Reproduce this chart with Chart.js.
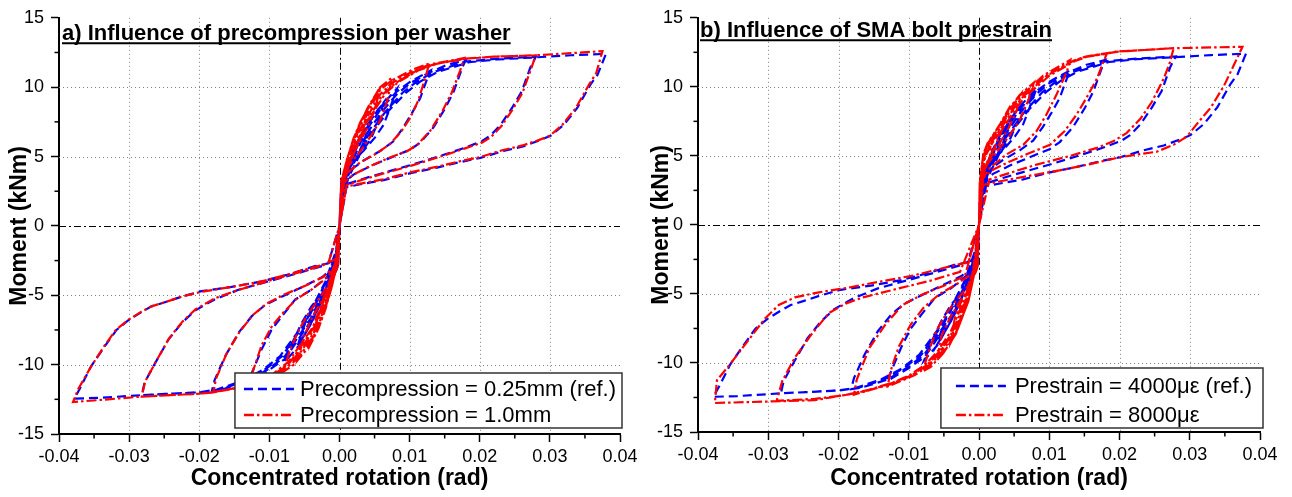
<!DOCTYPE html>
<html><head><meta charset="utf-8">
<script src="https://cdn.jsdelivr.net/npm/chart.js@4.4.0/dist/chart.umd.min.js"></script>
<style>
html,body{margin:0;padding:0;background:#fff;}
#wrap{position:relative;width:1292px;height:497px;overflow:hidden;}
.panel{position:absolute;top:0;width:646px;height:497px;}
#pa{left:0;} #pb{left:646px;}
</style></head><body>
<div id="wrap"><div class="panel" id="pa"><canvas id="ca" width="646" height="497"></canvas></div><div class="panel" id="pb"><canvas id="cb" width="646" height="497"></canvas></div></div>
<script>
// ---------- tick labels & text ----------
const xTickLabels = ['-0.04','-0.03','-0.02','-0.01','0.00','0.01','0.02','0.03','0.04'];
const yTickLabels = ['-15','-10','-5','0','5','10','15'];
const panelTitles = ['a) Influence of precompression per washer', 'b) Influence of SMA bolt prestrain'];
const seriesLabelsA = ['Precompression = 0.25mm (ref.)', 'Precompression = 1.0mm'];
const seriesLabelsB = ['Prestrain = 4000\u03bc\u03b5 (ref.)', 'Prestrain = 8000\u03bc\u03b5'];
const xAxisTitle = 'Concentrated rotation (rad)';
const yAxisTitle = 'Moment (kNm)';

// ---------- reference test (0.25mm precompression, 4000 microstrain) ----------
const refRot = [
 0,0.0002,0.0006,0.0012,0.0021,0.0016,0.0008,0.0002,0,-0.0004,-0.0011,-0.0021,-0.0016,-0.0008,-0.0002,0,
 0.0002,0.0006,0.0012,0.002,0.003,0.0041,0.0034,0.0024,0.0012,0.0004,0,-0.0004,-0.0011,-0.0025,-0.004,-0.0032,-0.0022,-0.001,-0.0003,0,
 0.0002,0.0008,0.002,0.004,0.0063,0.0055,0.0045,0.003,0.0015,0.0004,0,-0.0004,-0.0015,-0.004,-0.006,-0.0052,-0.004,-0.0025,-0.0011,-0.0002,0,
 0.0002,0.001,0.003,0.0055,0.0082,0.0072,0.0063,0.0051,0.0034,0.0015,0.0003,0,-0.0004,-0.0015,-0.0035,-0.0059,-0.0078,-0.0068,-0.0054,-0.004,-0.0025,-0.0011,-0.0002,0,
 0.0002,0.001,0.003,0.006,0.0082,0.0101,0.013,0.0125,0.0115,0.0103,0.0091,0.0077,0.0058,0.0034,0.0015,0.0003,0,-0.0004,-0.0015,-0.004,-0.0078,-0.0101,-0.013,-0.0125,-0.0111,-0.0097,-0.0082,-0.0063,-0.004,-0.0016,-0.0004,0,
 0.0002,0.001,0.003,0.006,0.0082,0.0101,0.013,0.0153,0.018,0.0175,0.0163,0.0151,0.0134,0.0115,0.0101,0.0072,0.0044,0.002,0.0006,0,-0.0004,-0.0015,-0.004,-0.0078,-0.0101,-0.013,-0.0168,-0.0182,-0.0178,-0.0163,-0.0144,-0.0125,-0.0106,-0.0078,-0.0049,-0.0025,-0.0006,0,
 0.0003,0.0012,0.0035,0.0065,0.009,0.011,0.0135,0.018,0.0225,0.028,0.0272,0.026,0.0246,0.023,0.0215,0.0203,0.0177,0.0144,0.0106,0.0068,0.0034,0.001,0,-0.0005,-0.0018,-0.0045,-0.0082,-0.0105,-0.0135,-0.0172,-0.0201,-0.0282,-0.0278,-0.0263,-0.0244,-0.0225,-0.0206,-0.0178,-0.0144,-0.0101,-0.0059,-0.0025,-0.0006,0,
 0.0003,0.0013,0.004,0.007,0.0095,0.0115,0.014,0.0185,0.0225,0.028,0.033,0.038,0.0368,0.0358,0.0339,0.032,0.0301,0.0287,0.0263,0.0234,0.0201,0.0172,0.0139,0.0101,0.0063,0.003,0.001,0,-0.0005,-0.002,-0.005,-0.0085,-0.011,-0.014,-0.0175,-0.0201,-0.0282,-0.0344,-0.0378,-0.037,-0.0354,-0.0335,-0.0318,-0.0301,-0.0282,-0.0268,-0.0249,-0.0225,-0.0197,-0.0154,-0.0111,-0.0073,-0.0035,-0.0016,0
];
const refMom = [
 0,2.0,3.4,4.5,5.4,4.3,3.3,2.4,0,-2.0,-3.4,-4.8,-3.9,-3.0,-2.1,0,
 2.0,3.4,4.5,5.5,6.5,7.2,5.9,4.9,4.0,3.2,0,-2.0,-3.4,-5.3,-6.9,-5.6,-4.6,-3.6,-2.6,0,
 2.0,3.8,5.4,7.3,8.9,7.5,6.3,5.2,4.3,3.3,0,-2.0,-4.0,-7.0,-8.7,-7.4,-6.0,-4.9,-3.9,-2.8,0,
 2.0,4.1,6.5,8.4,9.9,8.5,7.3,6.4,5.4,4.5,3.5,0,-2.0,-4.2,-6.5,-8.7,-9.8,-8.5,-7.0,-5.8,-4.9,-3.9,-2.9,0,
 1.9,3.9,6.3,8.5,9.7,10.4,11.2,10.6,9.2,8.1,7.1,6.1,5.4,4.7,4.0,3.3,0,-1.9,-4.0,-6.8,-9.6,-10.4,-11.3,-10.6,-8.9,-7.5,-6.5,-5.3,-4.6,-3.6,-2.7,0,
 1.8,3.7,6.0,8.2,9.5,10.3,11.1,11.6,11.95,11.4,9.7,8.5,7.1,6.0,5.5,4.9,4.3,3.7,3.1,0,-1.8,-3.8,-6.6,-9.4,-10.3,-11.2,-11.8,-11.9,-11.1,-9.4,-7.7,-6.5,-5.7,-5.0,-4.3,-3.7,-2.9,0,
 1.9,3.6,6.1,8.2,9.6,10.4,11.1,11.85,12.05,12.2,11.4,9.7,8.5,7.3,6.5,6.1,5.6,5.05,4.45,3.9,3.4,3.0,0,-1.9,-3.9,-6.7,-9.4,-10.3,-11.2,-11.8,-12.0,-12.2,-11.3,-9.9,-8.2,-7.0,-6.1,-5.3,-4.6,-4.0,-3.4,-2.9,-2.45,0,
 1.8,3.5,6.3,8.3,9.6,10.4,11.1,11.8,12.0,12.15,12.3,12.4,10.9,10.2,8.5,7.3,6.5,6.2,5.75,5.4,4.9,4.6,4.2,3.8,3.3,3.0,2.8,0,-1.8,-4.0,-7.0,-9.4,-10.4,-11.2,-11.8,-12.0,-12.2,-12.4,-12.45,-11.7,-10.1,-8.7,-7.5,-6.8,-6.2,-5.8,-5.5,-5.1,-4.7,-4.4,-4.0,-3.5,-2.9,-2.7,0
];

// ---------- precompression 1.0mm ----------
const pre10Rot = [
 0,0.0002,0.0006,0.0012,0.002,0.0015,0.0007,0.0002,0,-0.0003,-0.001,-0.002,-0.0015,-0.0007,-0.0002,0,
 0.0002,0.0006,0.0012,0.002,0.003,0.004,0.0033,0.0023,0.0012,0.0004,0,-0.0003,-0.001,-0.002,-0.003,-0.004,-0.0032,-0.0022,-0.0011,-0.0003,0,
 0.0002,0.0008,0.002,0.004,0.0058,0.005,0.0039,0.0026,0.0013,0.0004,0,-0.0003,-0.0012,-0.003,-0.0045,-0.006,-0.0051,-0.0039,-0.0024,-0.001,-0.0002,0,
 0.0002,0.001,0.003,0.0058,0.0075,0.0068,0.0058,0.0045,0.003,0.0014,0.0003,0,-0.0003,-0.0012,-0.003,-0.0065,-0.008,-0.0071,-0.0058,-0.0043,-0.0027,-0.0012,-0.0002,0,
 0.0002,0.001,0.003,0.0058,0.0075,0.0106,0.0128,0.0122,0.0112,0.0101,0.0088,0.0072,0.0052,0.003,0.0013,0.0003,0,-0.0003,-0.0012,-0.003,-0.0065,-0.009,-0.013,-0.0123,-0.0111,-0.0096,-0.0081,-0.0062,-0.004,-0.0017,-0.0004,0,
 0.0002,0.001,0.003,0.0058,0.0075,0.0106,0.013,0.0178,0.0172,0.016,0.0147,0.013,0.0112,0.0097,0.007,0.0043,0.002,0.0006,0,-0.0003,-0.0012,-0.003,-0.0065,-0.009,-0.013,-0.018,-0.0176,-0.0161,-0.0142,-0.0123,-0.0104,-0.0077,-0.0048,-0.0024,-0.0006,0,
 0.0003,0.0012,0.0035,0.0062,0.008,0.011,0.0135,0.0177,0.022,0.028,0.0273,0.0261,0.0247,0.0231,0.0216,0.0203,0.0177,0.0144,0.0106,0.0068,0.0034,0.001,0,-0.0004,-0.0015,-0.0035,-0.007,-0.0095,-0.0135,-0.018,-0.0201,-0.0282,-0.0277,-0.0262,-0.0243,-0.0224,-0.0205,-0.0177,-0.0143,-0.01,-0.0058,-0.0024,-0.0006,0,
 0.0003,0.0013,0.0038,0.0066,0.0085,0.0112,0.014,0.018,0.022,0.028,0.033,0.0375,0.0366,0.0356,0.0337,0.0318,0.03,0.0285,0.0261,0.0232,0.02,0.0171,0.0138,0.01,0.0062,0.003,0.001,0,-0.0004,-0.0016,-0.0038,-0.0073,-0.0098,-0.0138,-0.0183,-0.0201,-0.0282,-0.033,-0.038,-0.0373,-0.0355,-0.0336,-0.0319,-0.0302,-0.0283,-0.0268,-0.0249,-0.0225,-0.0197,-0.0154,-0.0111,-0.0073,-0.0035,-0.0016,0
];
const pre10Mom = [
 0,2.5,3.9,5.0,6.2,4.8,3.6,2.7,0,-2.5,-4.2,-5.9,-4.6,-3.4,-2.4,0,
 2.5,3.9,5.0,6.3,7.5,8.4,6.8,5.5,4.4,3.4,0,-2.5,-4.2,-6.0,-7.4,-8.4,-6.8,-5.3,-4.1,-2.9,0,
 2.5,4.3,6.3,8.5,10.0,8.3,7.0,5.8,4.6,3.5,0,-2.5,-4.5,-7.4,-8.8,-9.7,-8.0,-6.6,-5.3,-4.0,-2.8,0,
 2.5,4.7,7.5,10.0,10.7,9.0,7.6,6.5,5.4,4.4,3.4,0,-2.5,-4.5,-7.4,-10.0,-10.5,-9.0,-7.5,-6.2,-5.1,-4.0,-2.9,0,
 2.4,4.5,7.3,9.8,10.5,11.3,11.7,10.6,9.0,7.8,6.8,5.9,5.2,4.6,3.9,3.3,0,-2.4,-4.3,-7.2,-9.8,-10.8,-11.6,-10.4,-8.6,-7.2,-6.3,-5.3,-4.6,-3.7,-2.8,0,
 2.3,4.3,7.0,9.5,10.3,11.2,11.65,12.1,11.2,9.6,8.3,6.9,5.9,5.4,4.9,4.3,3.7,3.1,0,-2.3,-4.1,-7.0,-9.6,-10.7,-11.5,-12.0,-11.0,-9.2,-7.6,-6.4,-5.6,-4.9,-4.3,-3.7,-2.9,0,
 2.4,4.3,7.2,9.5,10.3,11.2,11.65,12.05,12.2,12.3,11.3,9.6,8.4,7.2,6.4,6.0,5.55,5.0,4.4,3.85,3.35,2.95,0,-2.4,-4.3,-7.2,-9.8,-10.8,-11.6,-12.0,-12.1,-12.3,-11.2,-9.8,-8.1,-6.9,-6.0,-5.2,-4.6,-3.95,-3.35,-2.85,-2.4,0,
 2.3,4.3,7.4,9.6,10.4,11.2,11.7,12.05,12.2,12.3,12.45,12.6,11.0,10.2,8.5,7.3,6.5,6.2,5.8,5.45,4.95,4.65,4.25,3.85,3.35,3.05,2.85,0,-2.3,-4.3,-7.3,-9.8,-10.8,-11.6,-12.0,-12.1,-12.3,-12.5,-12.7,-11.8,-10.2,-8.7,-7.5,-6.8,-6.2,-5.8,-5.5,-5.1,-4.75,-4.4,-4.0,-3.5,-2.95,-2.7,0
];

// ---------- prestrain 8000 microstrain ----------
const ps8000Rot = [
 0,0.0001,0.0006,0.0012,0.002,0.0015,0.0007,0.0002,0,-0.0005,-0.0012,-0.002,-0.0015,-0.0007,-0.0002,0,
 0.0001,0.0006,0.0015,0.003,0.004,0.0034,0.0024,0.0012,0.0003,0,-0.0005,-0.0015,-0.003,-0.004,-0.0034,-0.0024,-0.0012,-0.0003,0,
 0.0001,0.0006,0.0015,0.003,0.0044,0.006,0.0053,0.0042,0.0028,0.0013,0.0003,0,-0.0005,-0.0015,-0.0033,-0.0051,-0.006,-0.0053,-0.0042,-0.0028,-0.0013,-0.0003,0,
 0.0001,0.0006,0.0015,0.003,0.0044,0.0058,0.0078,0.007,0.0058,0.0044,0.0027,0.0012,0.0003,0,-0.0005,-0.0015,-0.0033,-0.0051,-0.0069,-0.008,-0.0072,-0.006,-0.0045,-0.0028,-0.0012,-0.0002,0,
 0.0001,0.0006,0.0015,0.003,0.0044,0.0058,0.0072,0.0091,0.013,0.0125,0.011,0.0096,0.0082,0.0063,0.0039,0.0015,0.0003,0,-0.0005,-0.0015,-0.0033,-0.0051,-0.0069,-0.0092,-0.013,-0.0126,-0.0114,-0.0097,-0.0079,-0.0056,-0.0032,-0.0009,0,
 0.0001,0.0006,0.0015,0.003,0.0044,0.0058,0.0072,0.0091,0.013,0.0149,0.0182,0.0177,0.0168,0.0153,0.0139,0.0122,0.0101,0.0072,0.0044,0.002,0.0006,0,-0.0005,-0.0015,-0.0033,-0.0051,-0.0069,-0.0092,-0.0116,-0.0151,-0.0178,-0.0174,-0.0156,-0.0133,-0.0109,-0.0079,-0.005,-0.002,0,
 0.0002,0.0008,0.0018,0.0034,0.0049,0.0063,0.0077,0.0096,0.0135,0.0152,0.0196,0.0277,0.0272,0.0263,0.0246,0.023,0.021,0.0191,0.0168,0.013,0.0082,0.0044,0.0015,0,-0.0006,-0.0018,-0.0037,-0.0055,-0.0073,-0.0096,-0.012,-0.0155,-0.0187,-0.0234,-0.0288,-0.028,-0.0262,-0.0238,-0.0214,-0.019,-0.0165,-0.0118,-0.007,-0.0027,0,
 0.0002,0.0009,0.002,0.0037,0.0052,0.0066,0.008,0.01,0.0138,0.0155,0.0198,0.0277,0.0375,0.0363,0.0349,0.033,0.031,0.0296,0.0277,0.0253,0.0225,0.0196,0.0158,0.012,0.0082,0.0044,0.002,0.0006,0,-0.0006,-0.002,-0.004,-0.0058,-0.0076,-0.0099,-0.0122,-0.0157,-0.0189,-0.0234,-0.0305,-0.0376,-0.0373,-0.0353,-0.0329,-0.0305,-0.0285,-0.0262,-0.023,-0.0187,-0.014,-0.0092,-0.0045,-0.0015,0
];
const ps8000Mom = [
 0,3.0,5.1,5.9,6.5,4.8,3.8,2.8,0,-3.1,-4.8,-5.7,-4.3,-3.3,-2.4,0,
 3.0,5.1,6.1,7.3,8.2,7.0,5.8,4.6,3.3,0,-3.1,-5.5,-7.5,-8.5,-6.6,-5.4,-4.3,-3.0,0,
 3.0,5.1,6.1,7.3,8.5,9.5,8.2,7.0,5.8,4.6,3.4,0,-3.1,-5.5,-7.9,-9.3,-9.8,-8.0,-6.8,-5.6,-4.5,-3.2,0,
 3.0,5.1,6.1,7.3,8.5,9.4,10.3,9.0,7.6,6.5,5.4,4.4,3.4,0,-3.1,-5.5,-7.9,-9.3,-10.3,-10.6,-9.2,-7.6,-6.3,-5.2,-4.2,-3.0,0,
 3.0,5.0,6.0,7.2,8.4,9.3,9.9,10.8,11.95,11.1,9.4,8.0,6.8,5.8,5.1,4.1,3.2,0,-3.0,-5.3,-7.7,-9.1,-10.1,-10.9,-11.7,-10.6,-8.8,-7.2,-6.0,-5.0,-4.3,-3.5,0,
 2.9,4.9,5.9,7.0,8.2,9.1,9.8,10.7,11.8,12.15,12.4,11.8,10.6,9.2,8.0,6.8,5.8,5.2,4.6,4.0,3.4,0,-2.9,-5.1,-7.5,-8.9,-10.0,-10.8,-11.4,-11.9,-12.3,-11.2,-8.9,-7.2,-5.8,-5.0,-4.4,-3.7,0,
 3.0,5.0,6.0,7.2,8.4,9.3,9.9,10.8,11.9,12.2,12.55,12.8,11.8,10.6,8.9,7.7,6.65,6.05,5.58,5.0,4.37,3.77,3.3,0,-3.0,-5.3,-7.7,-9.1,-10.1,-10.9,-11.4,-11.95,-12.3,-12.6,-12.74,-11.3,-9.6,-7.9,-6.4,-5.7,-5.25,-4.65,-4.05,-3.4,0,
 2.9,5.0,6.0,7.2,8.4,9.3,9.9,10.8,11.9,12.2,12.55,12.8,12.9,11.6,10.1,8.5,7.3,6.4,5.8,5.3,5.1,4.85,4.4,4.0,3.65,3.3,3.05,2.9,0,-2.9,-5.3,-7.7,-9.1,-10.1,-10.9,-11.4,-11.95,-12.3,-12.7,-12.8,-12.9,-11.25,-10.0,-8.4,-6.8,-5.8,-5.25,-4.9,-4.55,-4.1,-3.65,-3.05,-2.7,0
];

// ---------- helpers ----------
const FONT = "'Liberation Sans', Arial, sans-serif";
const toPoints = (rot, mom) => rot.map((r, i) => ({x: r, y: mom[i]}));
const xMajor = xTickLabels.map(Number);
const yMajor = yTickLabels.map(Number);

function styleBlue(label, rot, mom) {
  return {label, data: toPoints(rot, mom), borderColor: '#0000ff', borderWidth: 2.2,
    borderDash: [9, 5], pointRadius: 0, showLine: true, tension: 0, fill: false, order: 1};
}
function styleRed(label, rot, mom) {
  return {label, data: toPoints(rot, mom), borderColor: '#ff0000', borderWidth: 2.2,
    borderDash: [10, 3, 2.5, 3], pointRadius: 0, showLine: true, tension: 0, fill: false, order: 0};
}

function decor(p) {
  return {
    id: 'decor',
    beforeDatasetsDraw(chart) {
      const {ctx, chartArea: a, scales: {x, y}} = chart;
      ctx.save();
      ctx.lineWidth = 1;
      xMajor.forEach(v => {
        if (v <= x.min || v >= x.max) return;
        const px = Math.round(x.getPixelForValue(v)) + 0.5;
        if (v === 0) { ctx.strokeStyle = '#000'; ctx.setLineDash([7, 3, 2, 3]); }
        else { ctx.strokeStyle = '#808080'; ctx.setLineDash([1, 3]); }
        ctx.beginPath(); ctx.moveTo(px, a.top); ctx.lineTo(px, a.bottom); ctx.stroke();
      });
      yMajor.forEach(v => {
        if (v <= y.min || v >= y.max) return;
        const py = Math.round(y.getPixelForValue(v)) + 0.5;
        if (v === 0) { ctx.strokeStyle = '#000'; ctx.setLineDash([7, 3, 2, 3]); }
        else { ctx.strokeStyle = '#808080'; ctx.setLineDash([1, 3]); }
        ctx.beginPath(); ctx.moveTo(a.left, py); ctx.lineTo(a.right, py); ctx.stroke();
      });
      ctx.restore();
    },
    afterDraw(chart) {
      const {ctx, chartArea: a, scales: {x, y}} = chart;
      ctx.save();
      // minor ticks
      ctx.strokeStyle = '#000'; ctx.lineWidth = 1.5; ctx.setLineDash([]);
      for (let i = 0; i < xMajor.length - 1; i++) {
        const px = x.getPixelForValue((xMajor[i] + xMajor[i + 1]) / 2);
        ctx.beginPath(); ctx.moveTo(px, a.bottom); ctx.lineTo(px, a.bottom + 4.5); ctx.stroke();
      }
      for (let i = 0; i < yMajor.length - 1; i++) {
        const py = y.getPixelForValue((yMajor[i] + yMajor[i + 1]) / 2);
        ctx.beginPath(); ctx.moveTo(a.left, py); ctx.lineTo(a.left - 4.5, py); ctx.stroke();
      }
      // panel title (underlined)
      ctx.font = 'bold 22px ' + FONT;
      ctx.fillStyle = '#000'; ctx.textBaseline = 'alphabetic'; ctx.textAlign = 'left';
      const tx = a.left + p.titleDx, ty = a.top + p.titleDy;
      ctx.fillText(p.title, tx, ty);
      const tw = ctx.measureText(p.title).width;
      ctx.lineWidth = 2;
      ctx.beginPath(); ctx.moveTo(tx, ty + 3.5); ctx.lineTo(tx + tw, ty + 3.5); ctx.stroke();
      // legend
      ctx.font = '22px ' + FONT;
      const ds = chart.data.datasets;
      const textW = Math.max(...ds.map(d => ctx.measureText(d.label).width));
      const L = p.legend;
      const boxW = L.padL + L.sample + L.gap + textW + L.padR;
      const right = a.right + L.dRight, bottom = a.bottom - L.dBottom;
      const left = right - boxW, top = bottom - L.h;
      ctx.fillStyle = '#fff';
      ctx.fillRect(left, top, boxW, L.h);
      ctx.strokeStyle = '#333'; ctx.lineWidth = 1.5;
      ctx.strokeRect(left, top, boxW, L.h);
      ds.forEach((d, i) => {
        const ry = top + L.rows[i];
        ctx.strokeStyle = d.borderColor; ctx.lineWidth = 2.6;
        ctx.setLineDash(d.borderDash);
        ctx.beginPath(); ctx.moveTo(left + L.padL, ry); ctx.lineTo(left + L.padL + L.sample, ry); ctx.stroke();
        ctx.setLineDash([]);
        ctx.fillStyle = '#000'; ctx.textBaseline = 'middle';
        ctx.fillText(d.label, left + L.padL + L.sample + L.gap, ry + 1);
      });
      ctx.restore();
    }
  };
}

function makeChart(canvasId, datasets, p) {
  const tickFont = {family: FONT, size: 18};
  const titleFont = {family: FONT, size: 23, weight: 'bold'};
  return new Chart(document.getElementById(canvasId), {
    type: 'scatter',
    data: {datasets},
    options: {
      responsive: false, animation: false, devicePixelRatio: 1,
      events: [],
      layout: {padding: {left: 0, right: p.padRight, top: p.padTop, bottom: 0}},
      plugins: {legend: {display: false}, tooltip: {enabled: false}, title: {display: false}},
      scales: {
        x: {
          type: 'linear', min: -0.04, max: 0.04,
          afterBuildTicks: s => { s.ticks = xMajor.map(v => ({value: v})); },
          afterFit: s => { s.height = p.xAxisH; },
          ticks: {font: tickFont, color: '#000', padding: 4, maxRotation: 0, autoSkip: false,
                  callback: (v, i) => xTickLabels[i]},
          grid: {display: true, drawOnChartArea: false, drawTicks: true, tickLength: 8, tickWidth: 1.5, tickColor: '#000'},
          border: {display: true, color: '#000', width: 2},
          title: {display: true, text: xAxisTitle, font: titleFont, color: '#000', padding: {top: 0, bottom: 5}}
        },
        y: {
          type: 'linear', min: -15, max: 15,
          afterBuildTicks: s => { s.ticks = yMajor.map(v => ({value: v})); },
          afterFit: s => { s.width = p.yAxisW; },
          ticks: {font: tickFont, color: '#000', padding: 7, autoSkip: false,
                  callback: (v, i) => yTickLabels[i]},
          grid: {display: true, drawOnChartArea: false, drawTicks: true, tickLength: 8, tickWidth: 1.5, tickColor: '#000'},
          border: {display: true, color: '#000', width: 2},
          title: {display: true, text: yAxisTitle, font: titleFont, color: '#000', padding: {top: p.yTitlePad, bottom: 0}}
        }
      }
    },
    plugins: [decor(p)]
  });
}

makeChart('ca', [
  styleBlue(seriesLabelsA[0], refRot, refMom),
  styleRed(seriesLabelsA[1], pre10Rot, pre10Mom)
], {
  padRight: 26, padTop: 17, xAxisH: 63, yAxisW: 59, yTitlePad: 6,
  title: panelTitles[0], titleDx: 3, titleDy: 22,
  legend: {padL: 9, sample: 50, gap: 6, padR: 6, h: 55, rows: [16, 42], dRight: 2, dBottom: 6}
});

makeChart('cb', [
  styleBlue(seriesLabelsB[0], refRot, refMom),
  styleRed(seriesLabelsB[1], ps8000Rot, ps8000Mom)
], {
  padRight: 32, padTop: 15, xAxisH: 65, yAxisW: 52, yTitlePad: 2,
  title: panelTitles[1], titleDx: 2, titleDy: 19,
  legend: {padL: 15, sample: 50, gap: 9, padR: 11, h: 60, rows: [18, 47], dRight: 3, dBottom: 4}
});
</script>
</body></html>
